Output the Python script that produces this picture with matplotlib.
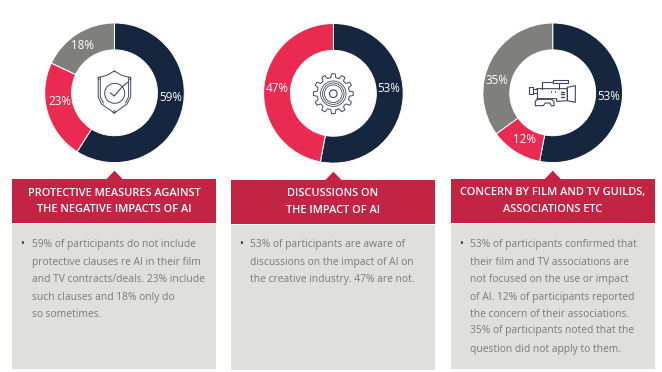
import matplotlib
matplotlib.use('Agg')
import matplotlib.pyplot as plt
import numpy as np
from matplotlib.patches import Rectangle, Polygon, Circle

W, H = 662, 372

# data
values_1 = [59, 23, 18]
colors_1 = ['#16263F', '#E92B52', '#7F7F7D']
values_2 = [53, 47]
colors_2 = ['#16263F', '#E92B52']
values_3 = [53, 12, 35]
colors_3 = ['#16263F', '#E92B52', '#7F7F7D']

titles_1 = ['PROTECTIVE MEASURES AGAINST', 'THE NEGATIVE IMPACTS OF AI']
titles_2 = ['DISCUSSIONS ON', 'THE IMPACT OF AI']
titles_3 = ['CONCERN BY FILM AND TV GUILDS,', 'ASSOCIATIONS ETC']

body_1 = ['59% of participants do not include',
          'protective clauses re AI in their film',
          'and TV contracts/deals. 23% include',
          'such clauses and 18% only do',
          'so sometimes.']
body_2 = ['53% of participants are aware of',
          'discussions on the impact of AI on',
          'the creative industry. 47% are not.']
body_3 = ['53% of participants confirmed that',
          'their film and TV associations are',
          'not focused on the use or impact',
          'of AI. 12% of participants reported',
          'the concern of their associations.',
          '35% of participants noted that the',
          'question did not apply to them.']

FONT = 'Open Sans'
ICON = '#3C4760'
LINE_Y = [245, 262.3, 279.3, 297.3, 314.3, 331, 349.3]

fig = plt.figure(figsize=(W / 100, H / 100), dpi=100, facecolor='white')

# pixel canvas for cards and icons
bg = fig.add_axes([0, 0, 1, 1])
bg.set_xlim(0, W)
bg.set_ylim(H, 0)
bg.axis('off')


def donut(cx, cy, vals, cols, label_pos):
    r = 69.8
    ax = fig.add_axes([(cx - r) / W, 1 - (cy + r) / H, 2 * r / W, 2 * r / H])
    ax.pie(vals, colors=cols, startangle=90, counterclock=False, radius=1,
           wedgeprops={'width': 0.385, 'edgecolor': 'white', 'linewidth': 0.7})
    ax.set_xlim(-1, 1)
    ax.set_ylim(-1, 1)
    for v, (px, py) in zip(vals, label_pos):
        bg_x = (px - cx) / r
        bg_y = (cy - py) / r
        ax.text(bg_x, bg_y, f'{v}%', color='white', fontsize=8.4, family=FONT,
                fontweight='normal', ha='center', va='center')


def card(x0, top, bottom, cx, titles, lines):
    bg.add_patch(Rectangle((x0, top), 204, 44.3, fc='#C32443', ec='none'))
    bg.add_patch(Polygon([(cx - 8.5, top + 0.5), (cx, top - 8.3), (cx + 8.5, top + 0.5)],
                         fc='#C32443', ec='none'))
    bg.add_patch(Rectangle((x0, top + 45), 204, bottom - top - 45, fc='#DFDFDD', ec='none'))
    off = top - 179
    for t, y in zip(titles, [193, 210]):
        bg.text(x0 + 102, y + off * 0.3, t, color='white', fontsize=7.9, family=FONT,
                fontweight='semibold', ha='center', va='center')
    bg.text(x0 + 10, LINE_Y[0] - 0.5, '•', color='#222222', fontsize=7, family=FONT,
            ha='center', va='center')
    for t, y in zip(lines, LINE_Y):
        bg.text(x0 + 19.5, y, t, color='#7A7A7A', fontsize=7.4, family=FONT,
                ha='left', va='center')


def stroke(pts, lw=0.7, closed=False):
    xy = np.array(pts, dtype=float)
    if closed:
        xy = np.vstack([xy, xy[0]])
    bg.plot(xy[:, 0], xy[:, 1], color=ICON, lw=lw, solid_capstyle='round', zorder=5)


def ring(cx, cy, r, lw=0.7):
    bg.add_patch(Circle((cx, cy), r, fc='none', ec=ICON, lw=lw, zorder=5))


def shield_icon():
    stroke([(114.3, 71), (122, 75.5), (130.7, 77.5), (130.7, 97), (127, 104), (114.3, 113),
            (101.5, 104), (98.2, 97), (98.2, 77.5), (106.5, 75.5)], closed=True)
    stroke([(100.3, 80), (100.3, 97), (103.5, 103)])
    stroke([(128.6, 80), (128.6, 97), (125.5, 103)])
    ring(114.7, 93.3, 10)
    stroke([(110, 92.7), (114.3, 96), (121.7, 87.3), (128, 82)], lw=0.8)
    for p in [(99.5, 78.5), (129.5, 78.5), (114.3, 112)]:
        ring(p[0], p[1], 1.3, lw=0.6)


def gear_icon():
    cx, cy = 333.3, 93.7
    teeth = 12
    pts = []
    for i in range(teeth):
        a = 2 * np.pi * i / teeth
        s = 2 * np.pi / teeth
        for da, rad in [(-0.30, 16.2), (-0.17, 20), (0.17, 20), (0.30, 16.2)]:
            ang = a + da * s
            pts.append((cx + rad * np.sin(ang), cy - rad * np.cos(ang)))
    stroke(pts, closed=True)
    for r in [12.7, 10.7, 8.8]:
        ring(cx, cy, r, lw=0.6)
    ring(cx, cy, 3.8, lw=0.8)


def camera_icon():
    def z(p):
        return [(440 + x / 3, y / 3) for x, y in p]
    stroke(z([(382, 262), (406, 257), (406, 307), (382, 302)]), closed=True, lw=0.8)
    stroke(z([(290, 266), (382, 266), (382, 302), (350, 304), (350, 296), (290, 296)]), lw=0.8)
    stroke(z([(290, 266), (290, 296)]), lw=0.8)
    stroke(z([(338, 240), (385, 240), (385, 250), (338, 250)]), closed=True, lw=0.8)
    stroke(z([(305, 266), (305, 245), (338, 245)]), lw=0.8)
    stroke(z([(356, 250), (356, 266)]), lw=0.8)
    stroke(z([(268, 262), (280, 262), (280, 283), (268, 283)]), closed=True, lw=0.8)
    stroke(z([(280, 266), (290, 266)]), lw=0.8)
    stroke(z([(280, 280), (290, 280)]), lw=0.8)
    stroke(z([(286, 317), (286, 303), (295, 298), (335, 298), (342, 305), (342, 317)]), lw=0.8)
    stroke(z([(286, 317), (310, 317), (316, 309), (330, 309), (334, 317), (342, 317)]), lw=0.8)
    for y in [276, 283, 290]:
        stroke(z([(362, y), (373, y)]), lw=1.0)
    for x in [332, 345]:
        stroke(z([(x, 272), (x, 276)]), lw=0.7)


donut(114.5, 92.8, values_1, colors_1, [(171, 97.7), (59.5, 102), (82, 46)])
donut(333.4, 93.3, values_2, colors_2, [(389, 88), (277.3, 88)])
donut(552.7, 92.8, values_3, colors_3, [(609, 97), (524, 140), (497, 81)])

card(12, 179, 369, 114.5, titles_1, body_1)
card(231, 180, 370, 333.4, titles_2, body_2)
card(451, 179, 369, 552.7, titles_3, body_3)

# overlay so icons sit over the donut holes
shield_icon()
gear_icon()
camera_icon()
bg.set_zorder(3)
bg.patch.set_alpha(0)

fig.savefig('out.png', dpi=100)
